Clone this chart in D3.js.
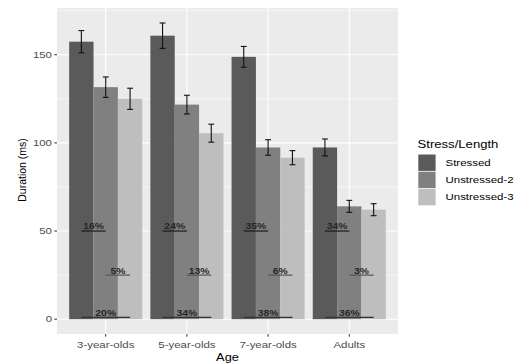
<!DOCTYPE html>
<html>
<head>
<meta charset="utf-8">
<script src="https://cdn.jsdelivr.net/npm/d3@7"></script>
<style>
  html, body { margin: 0; padding: 0; background: #fff; }
  svg { display: block; font-family: "Liberation Sans", Arial, sans-serif; }
</style>
</head>
<body>
<svg id="chart" width="518" height="363"></svg>
<script>
// Age groups on the x axis
const ages = ["3-year-olds", "5-year-olds", "7-year-olds", "Adults"];
// Fill series (legend order)
const series = ["Stressed", "Unstressed-2", "Unstressed-3"];
// Mean durations (ms) per age group
const stressed    = [157.4, 160.8, 148.8, 97.4];
const unstressed2 = [131.6, 121.7, 97.4, 64.0];
const unstressed3 = [125.0, 105.5, 91.6, 62.1];
// Standard errors (ms)
const stressedErr    = [6.3, 7.2, 5.9, 4.8];
const unstressed2Err = [5.8, 5.3, 4.4, 3.4];
const unstressed3Err = [6.0, 5.1, 4.0, 3.4];
// Percent differences between conditions
const pctStressedVsU2 = ["16%", "24%", "35%", "34%"];
const pctU2VsU3       = ["5%", "13%", "6%", "3%"];
const pctStressedVsU3 = ["20%", "34%", "38%", "36%"];
// Heights of the comparison brackets (ms)
const bracketLevels = [50, 25, 1];
const yTicks = [0, 50, 100, 150];
const yMinor = [25, 75, 125, 175];

const colors = { "Stressed": "#5a5a5a", "Unstressed-2": "#808080", "Unstressed-3": "#bebebe" };
const means = [stressed, unstressed2, unstressed3];
const errs = [stressedErr, unstressed2Err, unstressed3Err];

const svg = d3.select("#chart");
const panel = { left: 57, right: 398, top: 8, bottom: 334 };

const x = d3.scalePoint().domain(ages).range([panel.left, panel.right]).padding(0.6);
const step = x.step();
const xs = d3.scaleBand().domain(series).range([-0.45 * step, 0.45 * step]).padding(0);
const y = d3.scaleLinear().domain([-8.4, 176.5]).range([panel.bottom, panel.top]);

// stretched text helper
function label(g, px, py, txt, opts) {
  const o = Object.assign({ size: 8.5, sx: 1.35, anchor: "middle", fill: "#4d4d4d", weight: "normal", rotate: 0 }, opts);
  return g.append("text")
    .attr("transform", `translate(${px},${py}) scale(${o.sx},1)` + (o.rotate ? ` rotate(${o.rotate})` : ""))
    .attr("text-anchor", o.anchor)
    .attr("font-size", o.size)
    .attr("font-weight", o.weight)
    .attr("fill", o.fill)
    .text(txt);
}

// panel background
svg.append("rect")
  .attr("x", panel.left).attr("y", panel.top)
  .attr("width", panel.right - panel.left).attr("height", panel.bottom - panel.top)
  .attr("fill", "#ebebeb");

const grid = svg.append("g");
yMinor.forEach(v => grid.append("line")
  .attr("x1", panel.left).attr("x2", panel.right)
  .attr("y1", y(v)).attr("y2", y(v))
  .attr("stroke", "#fff").attr("stroke-width", 0.55));
yTicks.forEach(v => grid.append("line")
  .attr("x1", panel.left).attr("x2", panel.right)
  .attr("y1", y(v)).attr("y2", y(v))
  .attr("stroke", "#fff").attr("stroke-width", 1.1));
ages.forEach(a => grid.append("line")
  .attr("x1", x(a)).attr("x2", x(a))
  .attr("y1", panel.top).attr("y2", panel.bottom)
  .attr("stroke", "#fff").attr("stroke-width", 1.1));

// bars
const bars = svg.append("g");
ages.forEach((a, i) => {
  series.forEach((s, j) => {
    bars.append("rect")
      .attr("x", x(a) + xs(s))
      .attr("y", y(means[j][i]))
      .attr("width", xs.bandwidth())
      .attr("height", y(0) - y(means[j][i]))
      .attr("fill", colors[s]);
  });
});

// error bars
const eb = svg.append("g").attr("stroke", "#111").attr("stroke-width", 1.1);
const capHalf = xs.bandwidth() * 0.12;
ages.forEach((a, i) => {
  series.forEach((s, j) => {
    const cx = x(a) + xs(s) + xs.bandwidth() / 2;
    const hi = y(means[j][i] + errs[j][i]);
    const lo = y(means[j][i] - errs[j][i]);
    eb.append("line").attr("x1", cx).attr("x2", cx).attr("y1", hi).attr("y2", lo);
    eb.append("line").attr("x1", cx - capHalf).attr("x2", cx + capHalf).attr("y1", hi).attr("y2", hi);
    eb.append("line").attr("x1", cx - capHalf).attr("x2", cx + capHalf).attr("y1", lo).attr("y2", lo);
  });
});

// comparison brackets with percentages
const center = (a, s) => x(a) + xs(s) + xs.bandwidth() / 2;
const comps = [
  { pcts: pctStressedVsU2, from: "Stressed", to: "Unstressed-2", level: bracketLevels[0], stroke: "#1a1a1a" },
  { pcts: pctU2VsU3, from: "Unstressed-2", to: "Unstressed-3", level: bracketLevels[1], stroke: "#555" },
  { pcts: pctStressedVsU3, from: "Stressed", to: "Unstressed-3", level: bracketLevels[2], stroke: "#333" }
];
const ann = svg.append("g");
comps.forEach(c => {
  ages.forEach((a, i) => {
    const x1 = center(a, c.from), x2 = center(a, c.to), yy = y(c.level);
    ann.append("line").attr("x1", x1).attr("x2", x2).attr("y1", yy).attr("y2", yy)
      .attr("stroke", c.stroke).attr("stroke-width", 1.2);
    label(ann, (x1 + x2) / 2, yy - 1.6, c.pcts[i], { size: 8.5, sx: 1.22, weight: "bold", fill: "#262626" });
  });
});

// axes ticks and labels
const axes = svg.append("g");
yTicks.forEach(v => {
  axes.append("line").attr("x1", panel.left - 2.7).attr("x2", panel.left)
    .attr("y1", y(v)).attr("y2", y(v)).attr("stroke", "#333").attr("stroke-width", 1);
  label(axes, panel.left - 5, y(v) + 3, String(v), { anchor: "end" });
});
ages.forEach(a => {
  axes.append("line").attr("x1", x(a)).attr("x2", x(a))
    .attr("y1", panel.bottom).attr("y2", panel.bottom + 2.7).attr("stroke", "#333").attr("stroke-width", 1);
  label(axes, x(a), 347.5, a);
});
label(axes, (panel.left + panel.right) / 2, 360.5, "Age", { size: 10.5, sx: 1.22, fill: "#000" });
label(axes, 26, (panel.top + panel.bottom) / 2 - 1, "Duration (ms)", { size: 10.5, sx: 1.1, fill: "#000", rotate: -90 });

// legend
const lg = svg.append("g");
label(lg, 417.5, 148, "Stress/Length", { size: 10.5, sx: 1.25, anchor: "start", fill: "#000" });
series.forEach((s, j) => {
  const ky = 154.5 + j * 17.2;
  lg.append("rect").attr("x", 418.3).attr("y", ky).attr("width", 17.3).attr("height", 16.4)
    .attr("fill", colors[s]);
  label(lg, 445.5, ky + 11.3, s, { anchor: "start", fill: "#000" });
});
</script>
</body>
</html>
